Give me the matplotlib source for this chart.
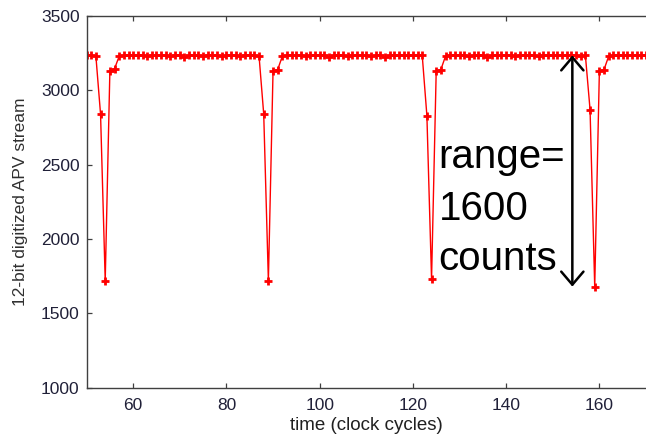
import matplotlib

matplotlib.use('Agg')

import matplotlib.pyplot as plt
import numpy as np

plt.rcParams['font.family'] = ['Liberation Sans', 'DejaVu Sans']

# Datos: un valor por ciclo de reloj (50..170)
clock_cycles = list(range(50, 171))
adc_counts = [
	3235, 3235, 3230, 2840, 1720, 3130, 3145, 3230, 3235, 3240,
	3235, 3240, 3235, 3230, 3240, 3235, 3240, 3235, 3230, 3240,
	3235, 3225, 3235, 3240, 3235, 3230, 3240, 3235, 3240, 3230,
	3235, 3240, 3235, 3230, 3240, 3235, 3235, 3230, 2840, 1720,
	3130, 3140, 3230, 3235, 3240, 3235, 3240, 3230, 3235, 3240,
	3235, 3240, 3225, 3235, 3240, 3235, 3230, 3240, 3235, 3235,
	3240, 3230, 3235, 3240, 3225, 3235, 3240, 3235, 3240, 3235,
	3240, 3235, 3235, 2830, 1730, 3130, 3140, 3230, 3235, 3240,
	3235, 3240, 3230, 3235, 3240, 3235, 3225, 3235, 3240, 3235,
	3240, 3235, 3230, 3240, 3235, 3240, 3235, 3230, 3240, 3235,
	3240, 3235, 3240, 3235, 3240, 3235, 3230, 3235, 2870, 1680,
	3130, 3140, 3230, 3235, 3240, 3235, 3240, 3235, 3240, 3235,
	3240,
]

x_ticks = [60, 80, 100, 120, 140, 160]
y_ticks = [1000, 1500, 2000, 2500, 3000, 3500]

range_top = 3235
range_bottom = 1680
range_x = 154.2
range_lines = ['range=', '1600', 'counts']
range_line_y = [2478, 2128, 1790]

fig = plt.figure(figsize=(6.46, 4.37), dpi=100)
ax = fig.add_axes([0.134, 0.1128, 0.866, 0.8506])

ax.plot(clock_cycles, adc_counts, color='#ff0000', lw=1.0,
	marker='+', markersize=6, markeredgewidth=2.0)

# Flecha de rango
ax.annotate('', xy=(range_x, range_top), xytext=(range_x, range_bottom),
	arrowprops=dict(arrowstyle='<->,head_length=0.47,head_width=0.4',
		mutation_scale=20, lw=1.8, color='black', shrinkA=0, shrinkB=0))
for label, y in zip(range_lines, range_line_y):
	ax.text(125.5, y, label, fontsize=29, va='baseline', ha='left', color='black')

ax.set_xlim(50, 170)
ax.set_ylim(1000, 3500)
ax.set_xticks(x_ticks)
ax.set_yticks(y_ticks)

for side in ['top', 'bottom', 'left']:
	ax.spines[side].set_color('#404040')
	ax.spines[side].set_linewidth(1.0)
ax.spines['right'].set_visible(False)
ax.tick_params(direction='in', length=3.6, width=0.9, color='#404040',
	labelsize=12.5, labelcolor='#202038', top=True, right=False)
ax.tick_params(axis='x', pad=7.5)
ax.tick_params(axis='y', pad=5)

ax.set_xlabel('time (clock cycles)', fontsize=13.5, color='#202020', labelpad=3)
ax.set_ylabel('12-bit digitized APV stream', fontsize=12.5, color='#303030', labelpad=9)

plt.savefig('out.png', dpi=100)
plt.close()
